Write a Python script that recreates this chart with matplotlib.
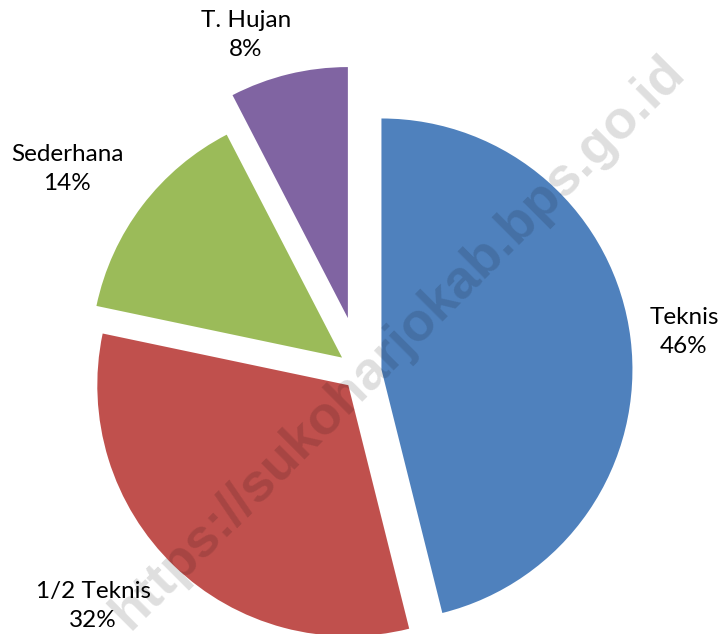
import matplotlib
matplotlib.use("Agg")
import matplotlib.pyplot as plt

# share of each category (percent)
categories = ['Teknis', '1/2 Teknis', 'Sederhana', 'T. Hujan']
shares = [46.1, 32.2, 14.1, 7.6]
colors = ['#4F81BD', '#C0504D', '#9BBB59', '#8064A2']
explode = [20.6, 18.3, 23.8, 55.5]  # pixels, pie explode is absolute

W, H = 723, 634
fig = plt.figure(figsize=(W / 100, H / 100), dpi=100)
ax = fig.add_axes([0, 0, 1, 1])

ax.pie(shares, explode=explode, colors=colors, startangle=90,
       counterclock=False, center=(361, H - 372), radius=251,
       wedgeprops=dict(linewidth=0))

# label positions in pixel coords (x, y from top)
label_pos = [(684, 332), (93, 606), (67, 169), (246, 35)]
total = sum(shares)
for name, v, (x, y) in zip(categories, shares, label_pos):
    ax.text(x, H - y, f'{name}\n{v / total * 100:.0f}%', ha='center', va='center',
            fontsize=17.5, family='Lato', linespacing=1.5, color='black')

# watermark
ax.text(398, H - 343, 'https://sukoharjokab.bps.go.id', rotation=45,
        rotation_mode='anchor', ha='center', va='center', fontsize=39,
        fontweight='bold', family='Liberation Sans', color='black',
        alpha=0.13, zorder=10)

ax.set_xlim(0, W)
ax.set_ylim(0, H)
ax.axis('off')

fig.savefig('out.png', dpi=100)
